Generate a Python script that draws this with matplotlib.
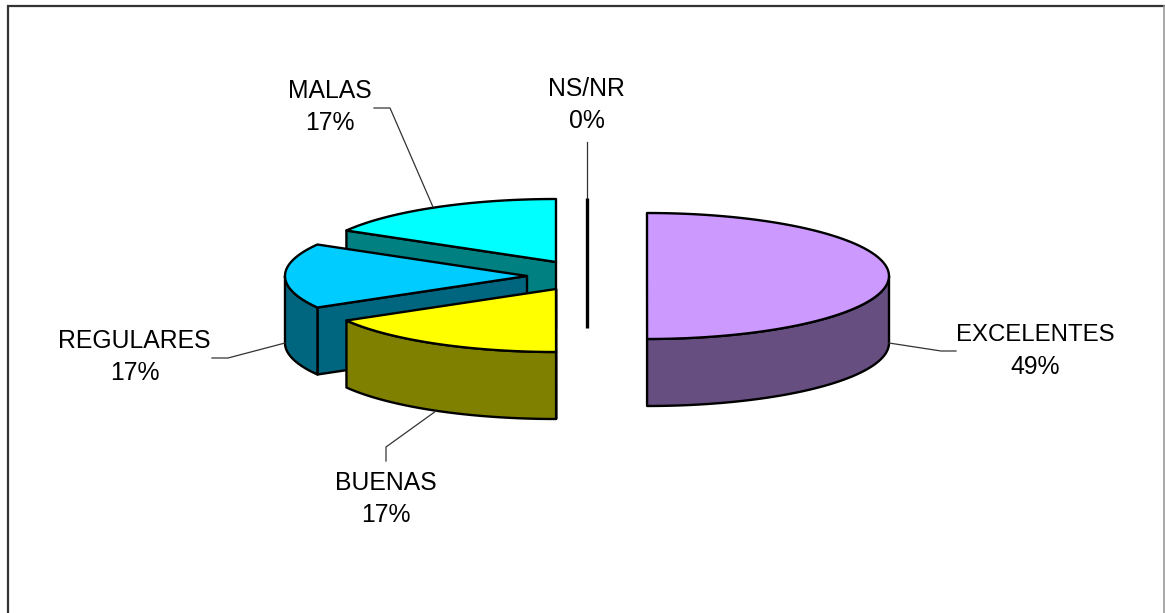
import numpy as np
import matplotlib
matplotlib.use('Agg')
import matplotlib.pyplot as plt

plt.rcParams['font.family'] = ['Liberation Sans', 'DejaVu Sans']

categories = ['EXCELENTES', 'BUENAS', 'REGULARES', 'MALAS', 'NS/NR']
labels_pct = ['49%', '17%', '17%', '17%', '0%']
shares = [50.0, 16.67, 16.67, 16.67, 0.0] # as the slices are really drawn
top_colors = ['#CC99FF', '#FFFF00', '#00CCFF', '#00FFFF', '#000000']
side_colors = ['#664F80', '#808000', '#006680', '#008080', '#000000']

# pie geometry in pixels
rx = 242
ry = 63
depth = 67
centers = [(647, 276), (556, 289), (527, 276), (556, 262), (586.5, 261)] # exploded slices
label_pos = [(1035.5, 341), (386, 490), (134.5, 348), (330, 98), (586.5, 96)] # x, baseline of the name
name_sizes = [17.3, 17.8, 17.8, 17.8, 17.8] # EXCELENTES is set tighter in the original
leaders = [
    [(889, 343), (941, 351), (956, 351)],
    [(436, 411), (386, 447), (386, 461)],
    [(285, 343), (228, 358), (212, 358)],
    [(433, 207), (390, 108), (374, 108)],
    [(586.5, 198), (586.5, 142)],
]
draw_order = [4, 3, 2, 1, 0] # back to front

fig = plt.figure(figsize=(11.65, 6.13), dpi=100)
ax = fig.add_axes([0, 0, 1, 1])
ax.set_xlim(0, 1165)
ax.set_ylim(613, 0)
ax.axis('off')

# chart frame, bottom is cut off in the original
ax.plot([8, 8, 1164], [613, 6, 6], color='#333333', lw=1.6, solid_joinstyle='miter')
ax.plot([1164, 1164], [6, 613], color='#999999', lw=1.2)

edges = np.cumsum([0] + shares) / sum(shares) * 2 * np.pi


def rim(cx, cy, a, b):
    # points on the ellipse, angle clockwise from the top
    t = np.linspace(a, b, 80)
    return cx + rx * np.sin(t), cy - ry * np.cos(t)


for i in draw_order:
    cx, cy = centers[i]
    a, b = edges[i], edges[i + 1]
    ex = dict(edgecolor='black', lw=1.7, joinstyle='round')

    if b - a == 0: # empty slice is only a thick line
        ax.plot([cx, cx], [cy - ry, cy + depth], color='black', lw=2.4, solid_capstyle='butt')
        continue

    # cut face at the start of the slice
    if np.pi - 0.01 < a < 2 * np.pi:
        x0, y0 = cx + rx * np.sin(a), cy - ry * np.cos(a)
        ax.fill([cx, x0, x0, cx], [cy, y0, y0 + depth, cy + depth], facecolor=side_colors[i], **ex)

    # outer wall, only the front half shows
    lo = max(a, np.pi / 2)
    hi = min(b, 3 * np.pi / 2)
    if hi > lo:
        x, y = rim(cx, cy, lo, hi)
        ax.fill(np.r_[x, x[::-1]], np.r_[y, y[::-1] + depth], facecolor=side_colors[i], **ex)

    # top
    x, y = rim(cx, cy, a, b)
    ax.fill(np.r_[cx, x], np.r_[cy, y], facecolor=top_colors[i], **ex)

for pts in leaders:
    ax.plot([p[0] for p in pts], [p[1] for p in pts], color='#333333', lw=0.9)

for name, pct, size, (tx, ty) in zip(categories, labels_pct, name_sizes, label_pos):
    ax.text(tx, ty, name, ha='center', va='baseline', fontsize=size)
    ax.text(tx, ty + 32.5, pct, ha='center', va='baseline', fontsize=17.8)

fig.savefig('out.png', dpi=100)
